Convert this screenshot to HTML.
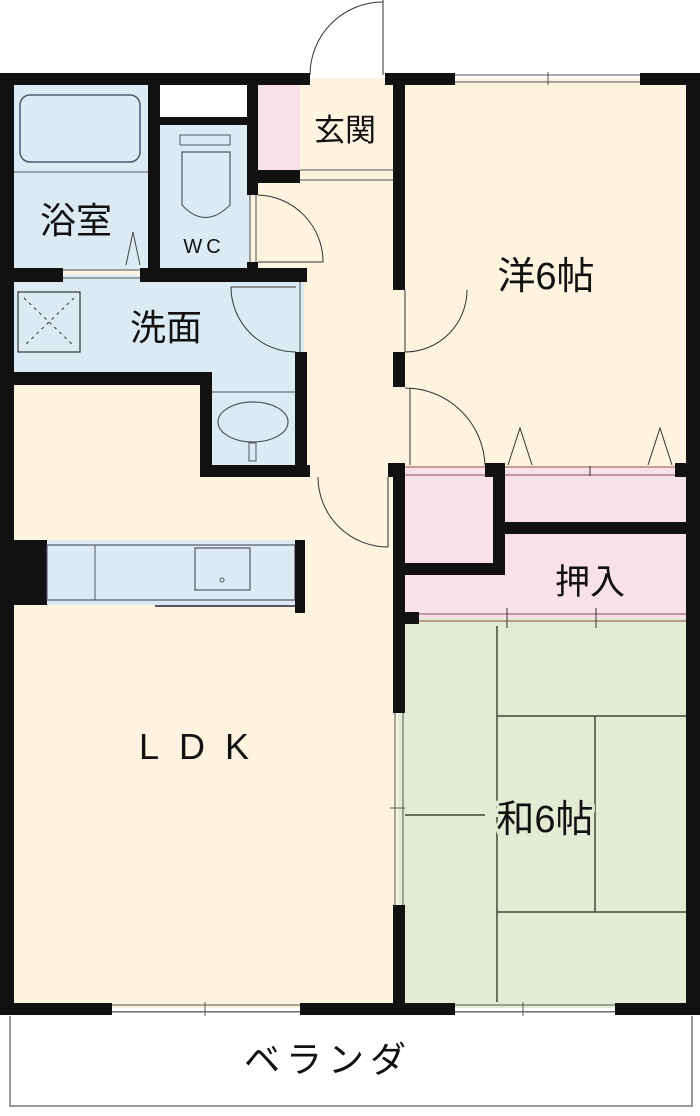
<!DOCTYPE html>
<html><head><meta charset="utf-8"><style>
html,body{margin:0;padding:0;background:#fff}
svg{display:block}
text{font-family:"Liberation Sans","Noto Sans CJK JP",sans-serif;fill:#111}
</style></head><body>
<svg width="700" height="1116" viewBox="0 0 700 1116" xmlns="http://www.w3.org/2000/svg">
<rect x="10" y="1012" width="682" height="94" fill="#fff" stroke="#999" stroke-width="2"/>
<rect x="0" y="1012" width="700" height="4" fill="#fff"/>
<text x="328" y="1072" font-size="36" text-anchor="middle" letter-spacing="6">ベランダ</text>
<rect x="10" y="78" width="388" height="930" fill="#fdf3df"/>
<rect x="398" y="78" width="292" height="390" fill="#fdf3df"/>
<rect x="398" y="468" width="292" height="150" fill="#f9e1ea"/>
<rect x="398" y="618" width="292" height="390" fill="#e3ebd4"/>
<rect x="14" y="85" width="140" height="185" fill="#dcebf3"/>
<rect x="156" y="120" width="94" height="150" fill="#dcebf3"/>
<rect x="160" y="85" width="88" height="32" fill="#fff"/>
<rect x="14" y="275" width="290" height="102" fill="#dcebf3"/>
<rect x="205" y="370" width="100" height="100" fill="#dcebf3"/>
<rect x="258" y="85" width="42" height="88" fill="#f9e1ea"/>
<rect x="14" y="540" width="290" height="65" fill="#dcebf3"/>
<rect x="20" y="95" width="120" height="67" rx="10" fill="none" stroke="#557" stroke-width="1.5"/>
<line x1="14" y1="172" x2="150" y2="172" stroke="#556" stroke-width="1"/>
<polyline points="126,265 133,232 140,265" fill="none" stroke="#444" stroke-width="1"/>
<rect x="180" y="135" width="50" height="10" fill="none" stroke="#556" stroke-width="1"/>
<path d="M182 152 L230 152 L230 205 Q205 230 182 205 Z" fill="none" stroke="#556" stroke-width="1.2"/>
<rect x="18" y="292" width="62" height="60" fill="none" stroke="#333" stroke-width="1.2"/>
<line x1="24" y1="298" x2="74" y2="346" stroke="#333" stroke-dasharray="3,4"/>
<line x1="74" y1="298" x2="24" y2="346" stroke="#333" stroke-dasharray="3,4"/>
<line x1="210" y1="392" x2="295" y2="392" stroke="#556"/>
<ellipse cx="253" cy="422" rx="35" ry="20" fill="none" stroke="#556" stroke-width="1.2"/>
<rect x="249" y="443" width="7" height="18" fill="#dcebf3" stroke="#556"/>
<rect x="14" y="540" width="33" height="65" fill="#111"/>
<rect x="47" y="545" width="248" height="55" fill="none" stroke="#556" stroke-width="1.2"/>
<line x1="95" y1="545" x2="95" y2="600" stroke="#556"/>
<rect x="195" y="548" width="55" height="42" fill="none" stroke="#556" stroke-width="1.2"/>
<circle cx="222" cy="580" r="2" fill="none" stroke="#556"/>
<line x1="155" y1="606" x2="300" y2="606" stroke="#556" stroke-width="2"/>
<rect x="295" y="540" width="10" height="73" fill="#111"/>
<g stroke="#3a4a3a" stroke-width="1.5">
<line x1="497" y1="626" x2="497" y2="1002"/>
<line x1="497" y1="716" x2="686" y2="716"/>
<line x1="497" y1="912" x2="686" y2="912"/>
<line x1="595" y1="716" x2="595" y2="912"/>
<line x1="405" y1="815" x2="485" y2="815"/>
</g>
<g stroke="#8a4a4a" stroke-width="1">
<line x1="405" y1="467" x2="686" y2="467"/><line x1="405" y1="475" x2="686" y2="475"/>
<line x1="405" y1="614" x2="686" y2="614"/><line x1="405" y1="621" x2="686" y2="621"/>
</g>
<g fill="#111">
<rect x="0" y="73" width="310" height="12"/>
<rect x="385" y="73" width="70" height="12"/>
<rect x="640" y="73" width="60" height="12"/>
<rect x="0" y="73" width="14" height="940"/>
<rect x="686" y="73" width="14" height="940"/>
<rect x="0" y="1003" width="112" height="12"/>
<rect x="300" y="1003" width="155" height="12"/>
<rect x="615" y="1003" width="85" height="12"/>
<rect x="148" y="73" width="12" height="197"/>
<rect x="160" y="117" width="88" height="8"/>
<rect x="247" y="73" width="11" height="110"/>
<rect x="247" y="170" width="53" height="13"/>
<rect x="247" y="183" width="11" height="12"/>
<rect x="247" y="262" width="11" height="8"/>
<rect x="0" y="268" width="63" height="14"/>
<rect x="140" y="268" width="167" height="14"/>
<rect x="295" y="268" width="12" height="14"/>
<rect x="295" y="352" width="12" height="125"/>
<rect x="0" y="372" width="212" height="13"/>
<rect x="200" y="372" width="12" height="105"/>
<rect x="200" y="465" width="110" height="12"/>
<rect x="393" y="73" width="12" height="217"/>
<rect x="393" y="352" width="12" height="35"/>
<rect x="388" y="463" width="17" height="14"/>
<rect x="393" y="463" width="12" height="250"/>
<rect x="393" y="905" width="12" height="110"/>
<rect x="485" y="463" width="20" height="14"/>
<rect x="493" y="463" width="12" height="112"/>
<rect x="405" y="563" width="100" height="12"/>
<rect x="505" y="522" width="181" height="12"/>
<rect x="675" y="463" width="11" height="14"/>
<rect x="405" y="612" width="14" height="12"/>
</g>
<g stroke="#555" stroke-width="1" fill="none">
<line x1="455" y1="75" x2="640" y2="75"/><line x1="455" y1="82" x2="640" y2="82"/>
<line x1="548" y1="72" x2="548" y2="85"/>
<line x1="112" y1="1005" x2="300" y2="1005"/><line x1="112" y1="1012" x2="300" y2="1012"/>
<line x1="205" y1="1002" x2="205" y2="1016"/>
<line x1="455" y1="1005" x2="615" y2="1005"/><line x1="455" y1="1012" x2="615" y2="1012"/>
<line x1="523" y1="1002" x2="523" y2="1016"/>
<line x1="63" y1="270" x2="140" y2="270"/><line x1="63" y1="278" x2="140" y2="278"/>
<line x1="395" y1="713" x2="395" y2="905"/><line x1="403" y1="713" x2="403" y2="905"/>
<line x1="390" y1="808" x2="405" y2="808"/>
<line x1="300" y1="170" x2="393" y2="170"/><line x1="300" y1="180" x2="393" y2="180"/>
<line x1="300" y1="282" x2="300" y2="352"/>
<line x1="250" y1="195" x2="250" y2="262"/><line x1="256" y1="195" x2="256" y2="262"/>
</g>
<g stroke="#333" stroke-width="1" fill="none">
<path d="M383 0 L383 75 M310 75 A73 73 0 0 1 383 2"/>
<path d="M258 195 A67 67 0 0 1 323 262 L258 262"/>
<path d="M296 352 A65 65 0 0 1 231 287 L296 287"/>
<path d="M405 290 L405 352 A62 62 0 0 0 467 290"/>
<path d="M405 388 A80 80 0 0 1 485 465 M410 388 L410 465"/>
<path d="M388 477 L388 547 A70 70 0 0 1 318 477"/>
<polyline points="508,465 520,428 532,465"/>
<polyline points="648,465 660,428 672,465"/>
<line x1="590" y1="466" x2="590" y2="476"/>
<line x1="507" y1="608" x2="507" y2="628"/><line x1="596" y1="608" x2="596" y2="628"/>
</g>
<text x="76" y="233" font-size="36" text-anchor="middle">浴室</text>
<text x="204" y="253" font-size="20" text-anchor="middle" letter-spacing="4">WC</text>
<text x="345" y="141" font-size="31" text-anchor="middle">玄関</text>
<text x="166" y="340" font-size="36" text-anchor="middle">洗面</text>
<text x="546" y="289" font-size="38" text-anchor="middle">洋6帖</text>
<text x="590" y="594" font-size="35" text-anchor="middle">押入</text>
<text x="204" y="759" font-size="36" text-anchor="middle" letter-spacing="20">LDK</text>
<text x="545" y="832" font-size="38" text-anchor="middle" style="paint-order:stroke" stroke="#e3ebd4" stroke-width="6">和6帖</text>
</svg>
</body></html>
